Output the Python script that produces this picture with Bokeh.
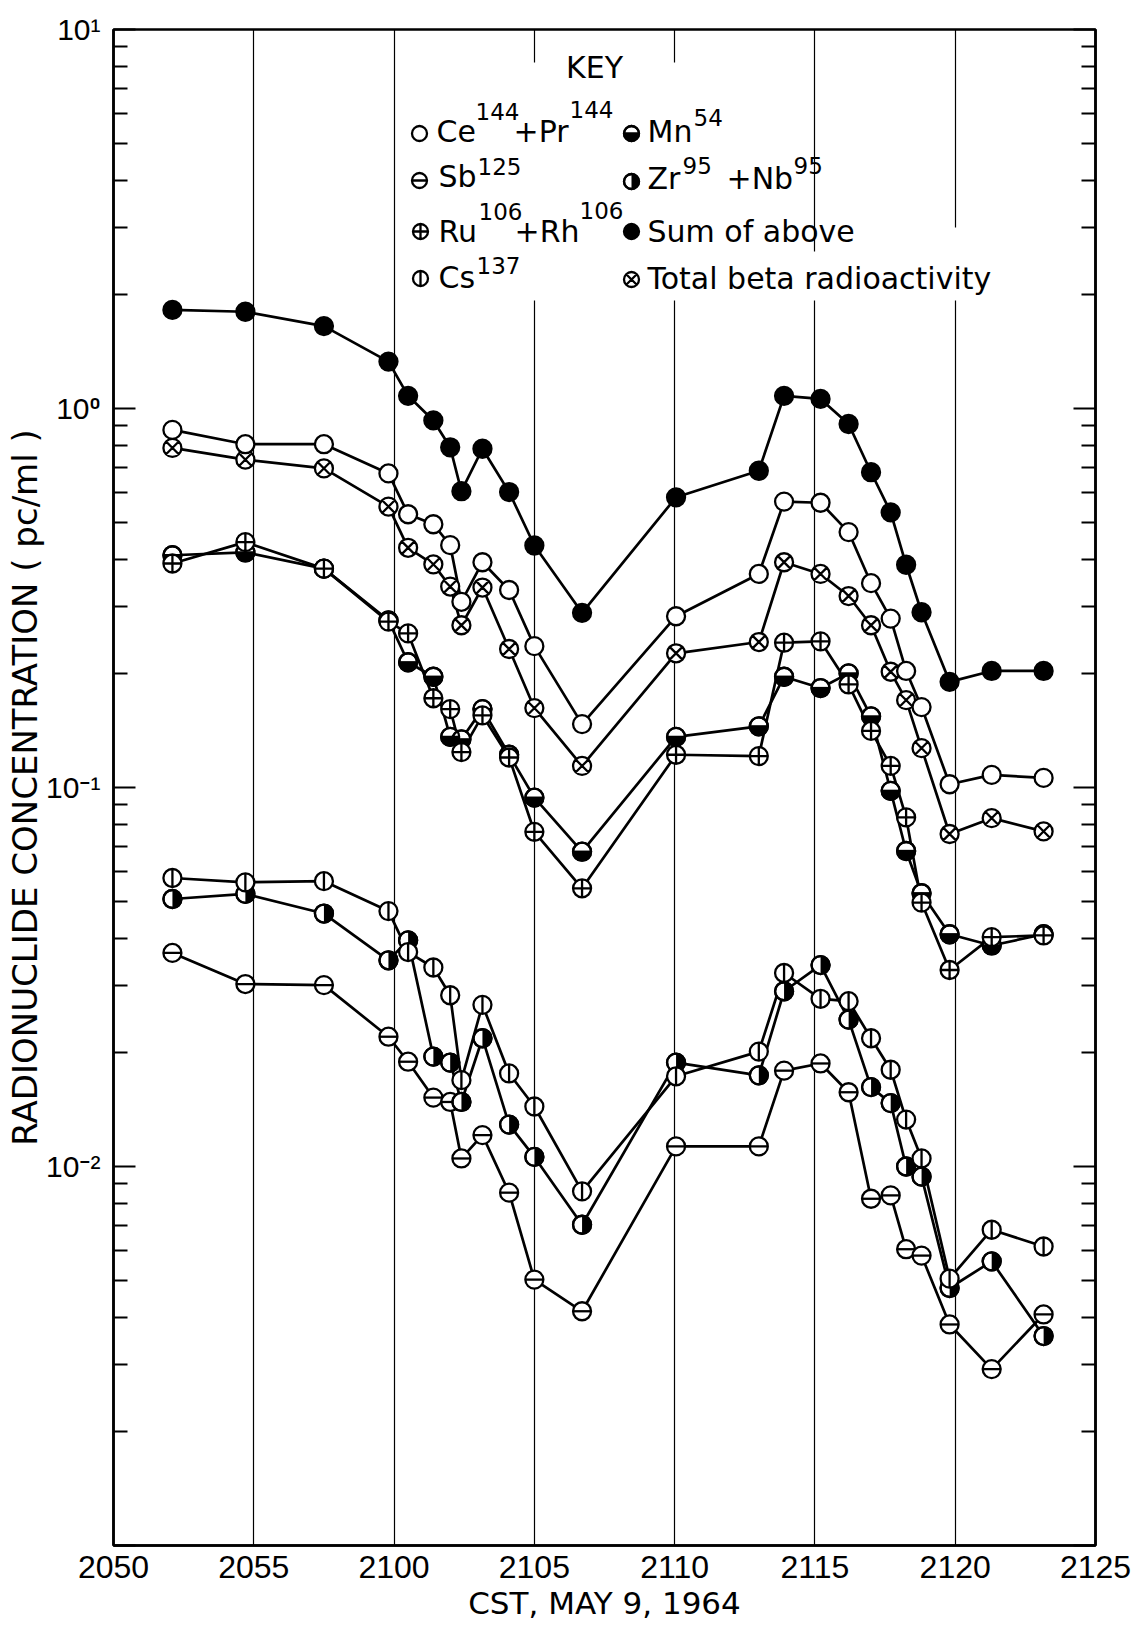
import math
from bokeh.plotting import figure
from bokeh.models import (FixedTicker, LogAxis, Label, BoxAnnotation, Range1d,
                          CustomJSTickFormatter)
from bokeh.embed import file_html
from bokeh.resources import INLINE

# ---------------- data ----------------
# x positions: minutes after 2050 CST, May 9 1964
tick_minutes = [0, 5, 10, 15, 20, 25, 30, 35]
tick_labels = ["2050", "2055", "2100", "2105", "2110", "2115", "2120", "2125"]

sample_minutes = [2.1, 4.7, 7.5, 9.8, 10.5, 11.4, 12.0, 12.4, 13.15, 14.1, 15.0, 16.7,
                  20.05, 23.0, 23.9, 25.2, 26.2, 27.0, 27.7, 28.25, 28.8, 29.8, 31.3, 33.15]

sum_above = [1.82, 1.80, 1.65, 1.33, 1.08, 0.93, 0.79, 0.605, 0.783, 0.602, 0.435, 0.289,
             0.583, 0.685, 1.08, 1.06, 0.91, 0.679, 0.532, 0.387, 0.29, 0.19, 0.203, 0.203]
ce_pr_144 = [0.878, 0.805, 0.805, 0.674, 0.526, 0.495, 0.436, 0.309, 0.393, 0.332, 0.236, 0.147,
             0.283, 0.366, 0.568, 0.564, 0.472, 0.346, 0.279, 0.203, 0.163, 0.102, 0.108, 0.106]
total_beta = [0.787, 0.733, 0.695, 0.551, 0.429, 0.388, 0.339, 0.268, 0.337, 0.232, 0.162, 0.114,
              0.226, 0.242, 0.393, 0.366, 0.320, 0.268, 0.202, 0.170, 0.127, 0.0754, 0.083, 0.0766]
ru_rh_106 = [0.390, 0.444, 0.378, 0.274, 0.255, 0.172, 0.161, 0.124, 0.155, 0.120, 0.0764, 0.0542,
             0.122, 0.121, 0.241, 0.243, 0.187, 0.141, 0.114, 0.0834, 0.0497, 0.033, 0.0403, 0.0407]
mn_54 = [0.410, 0.417, 0.378, 0.276, 0.214, 0.196, 0.136, 0.134, 0.161, 0.122, 0.094, 0.0677,
         0.136, 0.145, 0.196, 0.183, 0.200, 0.154, 0.098, 0.068, 0.0526, 0.041, 0.0383, 0.041]
zr_nb_95 = [0.0508, 0.0524, 0.0465, 0.035, 0.0395, 0.0195, 0.0188, 0.0148, 0.0218, 0.0129, 0.0106, 0.00702,
            0.0188, 0.0174, 0.029, 0.034, 0.0244, 0.0162, 0.0147, 0.010, 0.0094, 0.00478, 0.00562, 0.00357]
cs_137 = [0.0577, 0.0562, 0.0566, 0.0472, 0.0368, 0.0335, 0.0283, 0.0169, 0.0267, 0.0176, 0.0144, 0.0086,
          0.0173, 0.0201, 0.0324, 0.0277, 0.0273, 0.0218, 0.018, 0.0133, 0.0105, 0.00506, 0.00681, 0.00615]
sb_125 = [0.0366, 0.0303, 0.0301, 0.022, 0.0189, 0.0152, 0.0148, 0.0105, 0.0121, 0.00853, 0.00503, 0.00415,
          0.0113, 0.0113, 0.0179, 0.0187, 0.0157, 0.00822, 0.00839, 0.00605, 0.00582, 0.00383, 0.00292, 0.00407]

y_major = [0.001, 0.01, 0.1, 1, 10]
y_major_labels = ["", "10\u207b\u00b2", "10\u207b\u00b9", "10\u2070", "10\u00b9"]

x_title = "CST, MAY 9, 1964"
y_title = "RADIONUCLIDE CONCENTRATION ( pc/ml )"

# ---------------- layout helpers ----------------
W, H = 1132, 1631
FL, FR, FT, FB = 113, 1095, 29, 1545          # frame edges in page pixels
X0, X1 = 0, 35
LY0, LY1 = -3, 1


def dx(px):
    return X0 + (px - FL) / (FR - FL) * (X1 - X0)


def dy(py):
    return 10 ** (LY1 - (py - FT) / (FB - FT) * (LY1 - LY0))


TICK_FONT = "Liberation Sans, Roboto, sans-serif"
TEXT_FONT = "DejaVu Sans, sans-serif"

p = figure(width=W, height=H, y_axis_type="log",
           x_range=Range1d(X0, X1), y_range=Range1d(10 ** LY0, 10 ** LY1),
           output_backend="svg", toolbar_location=None,
           min_border_left=FL, min_border_right=W - FR, min_border_top=FT,
           min_border_bottom=H - FB)
p.background_fill_color = "white"
p.border_fill_color = "white"
p.outline_line_color = "black"
p.outline_line_width = 2.5

# x axis
xa = p.xaxis[0]
xa.ticker = FixedTicker(ticks=tick_minutes)
xa.formatter = CustomJSTickFormatter(args=dict(t=tick_minutes, l=tick_labels),
                                     code="const i = t.indexOf(tick); return i >= 0 ? l[i] : '';")
xa.major_tick_in = 0
xa.major_tick_out = 0
xa.minor_tick_in = 0
xa.minor_tick_out = 0
xa.axis_line_width = 2.5
xa.major_label_text_font = TICK_FONT
xa.major_label_text_font_size = "32px"
xa.major_label_text_color = "black"
xa.major_label_standoff = 10
xa.axis_label = x_title
xa.axis_label_text_font = TEXT_FONT
xa.axis_label_text_font_size = "31px"
xa.axis_label_text_font_style = "normal"
xa.axis_label_text_color = "black"
xa.axis_label_standoff = 4

p.xgrid.ticker = FixedTicker(ticks=tick_minutes)
p.xgrid.grid_line_color = "black"
p.xgrid.grid_line_width = 1.2
p.ygrid.visible = False

minor = [k * 10 ** e for e in range(LY0, LY1) for k in range(2, 10)]
yticker = FixedTicker(ticks=y_major, minor_ticks=minor)

ya = p.yaxis[0]
ya.ticker = yticker
ya.formatter = CustomJSTickFormatter(args=dict(t=y_major, l=y_major_labels),
                                     code="const i = t.indexOf(tick); return i >= 0 ? l[i] : '';")
ya.major_tick_in = 22
ya.major_tick_out = 0
ya.minor_tick_in = 14
ya.minor_tick_out = 0
ya.major_tick_line_width = 2.2
ya.minor_tick_line_width = 2.2
ya.axis_line_width = 2.5
ya.major_label_text_font = TICK_FONT
ya.major_label_text_font_size = "30px"
ya.major_label_text_color = "black"
ya.major_label_standoff = 13
ya.axis_label = y_title
ya.axis_label_text_font = TEXT_FONT
ya.axis_label_text_font_size = "34px"
ya.axis_label_text_font_style = "normal"
ya.axis_label_text_color = "black"
ya.axis_label_standoff = -2

ra = LogAxis(ticker=yticker,
             formatter=CustomJSTickFormatter(code="return '';"),
             major_tick_in=22, major_tick_out=0, minor_tick_in=14, minor_tick_out=0,
             major_tick_line_width=2.2, minor_tick_line_width=2.2, axis_line_width=2.5,
             major_label_text_font_size="0px", major_label_standoff=0)
p.add_layout(ra, "right")

# white patches where the key's lettering interrupts the grid lines
for (l, r, t, b) in [(400, 770, 62, 300), (790, 845, 251, 300), (930, 985, 227, 300)]:
    p.add_layout(BoxAnnotation(left=dx(l), right=dx(r), top=dy(t), bottom=dy(b),
                               fill_color="white", fill_alpha=1, line_color=None, level="underlay"))

# ---------------- series ----------------
SIZE = 18
LW = 2.3
series = [
    ("sb", sb_125), ("zr", zr_nb_95), ("cs", cs_137), ("mn", mn_54),
    ("ru", ru_rh_106), ("beta", total_beta), ("ce", ce_pr_144), ("sum", sum_above),
]

for _, vals in series:
    p.line(sample_minutes, vals, line_color="black", line_width=2.7)


def draw_marker(xs, ys, kind, size):
    r = size / 2.0
    if kind == "sum":
        p.scatter(xs, ys, marker="circle", size=size, fill_color="black", line_color="black", line_width=LW)
        return
    if kind == "ru":
        p.scatter(xs, ys, marker="circle_cross", size=size, fill_color="white", line_color="black", line_width=LW)
        return
    if kind == "beta":
        p.scatter(xs, ys, marker="circle_x", size=size, fill_color="white", line_color="black", line_width=LW)
        return
    p.scatter(xs, ys, marker="circle", size=size, fill_color="white", line_color="black", line_width=LW)
    if kind == "sb":
        p.scatter(xs, ys, marker="dash", size=size, line_color="black", line_width=LW)
    elif kind == "cs":
        p.scatter(xs, ys, marker="dash", angle=math.pi / 2, size=size, line_color="black", line_width=LW)
    elif kind == "mn":
        p.wedge(xs, ys, radius=r, radius_units="screen", start_angle=math.pi, end_angle=2 * math.pi,
                fill_color="black", line_color=None)
        p.scatter(xs, ys, marker="dash", size=size, line_color="black", line_width=LW)
        p.scatter(xs, ys, marker="circle", size=size, fill_color=None, line_color="black", line_width=LW)
    elif kind == "zr":
        p.wedge(xs, ys, radius=r, radius_units="screen", start_angle=-math.pi / 2, end_angle=math.pi / 2,
                fill_color="black", line_color=None)
        p.scatter(xs, ys, marker="circle", size=size, fill_color=None, line_color="black", line_width=LW)


for kind, vals in series:
    draw_marker(sample_minutes, vals, kind, SIZE)

# ---------------- key ----------------
KEY_SIZE = 15
key_markers = [("ce", 419, 133), ("sb", 419, 180), ("ru", 420, 231), ("cs", 420, 278),
               ("mn", 631, 133), ("zr", 631, 181), ("sum", 631, 231), ("beta", 631, 279)]
for kind, px, py in key_markers:
    draw_marker([dx(px)], [dy(py)], kind, KEY_SIZE)

BIG = "30px"
SUP = "23px"
# (text, left x, vertical centre, size, align) in page pixels
key_texts = [
    ("KEY", 594, 67, BIG, "center"),
    ("Ce", 436, 131, BIG, "left"), ("144", 475, 111, SUP, "left"),
    ("+Pr", 513, 131, BIG, "left"), ("144", 569, 109, SUP, "left"),
    ("Sb", 438, 176, BIG, "left"), ("125", 477, 166, SUP, "left"),
    ("Ru", 438, 231, BIG, "left"), ("106", 478, 211, SUP, "left"),
    ("+Rh", 514, 231, BIG, "left"), ("106", 579, 210, SUP, "left"),
    ("Cs", 438, 277, BIG, "left"), ("137", 476, 265, SUP, "left"),
    ("Mn", 647, 131, BIG, "left"), ("54", 693, 117, SUP, "left"),
    ("Zr", 647, 178, BIG, "left"), ("95", 682, 165, SUP, "left"),
    ("+Nb", 726, 178, BIG, "left"), ("95", 793, 165, SUP, "left"),
    ("Sum of above", 647, 231, BIG, "left"),
    ("Total beta radioactivity", 647, 278, BIG, "left"),
]
for txt, px, py, fs, al in key_texts:
    p.add_layout(Label(x=dx(px), y=dy(py), text=txt, text_font=TEXT_FONT, text_font_size=fs,
                       text_align=al, text_baseline="middle", text_color="black"))

open("out.html", "w").write(file_html(p, INLINE))
